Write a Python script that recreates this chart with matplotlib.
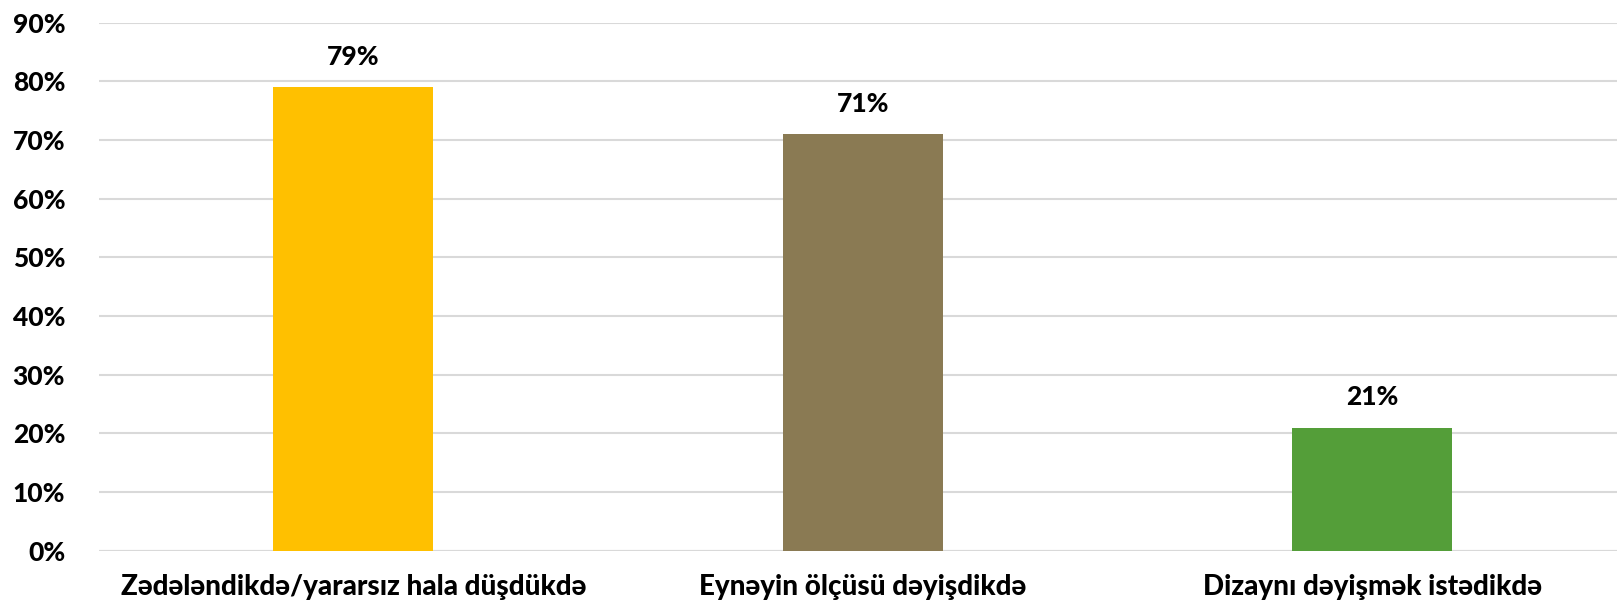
import matplotlib
matplotlib.use("Agg")
import matplotlib.pyplot as plt
from matplotlib.ticker import PercentFormatter

categories = ["Zədələndikdə/yararsız hala düşdükdə", "Eynəyin ölçüsü dəyişdikdə", "Dizaynı dəyişmək istədikdə"]
values = [0.79, 0.71, 0.21]
labels = ["79%", "71%", "21%"]
colors = ["#FFC000", "#8A7A53", "#549E39"]
yticks = [0, 0.1, 0.2, 0.3, 0.4, 0.5, 0.6, 0.7, 0.8, 0.9]

plt.rcParams['font.family'] = ['Lato', 'DejaVu Sans']
W = 900
fig = plt.figure(figsize=(16.17, 6.04), dpi=100)
ax = fig.add_axes([98.5/1617, 1-550.7/604, (1617-98.5)/1617, (550.7-22.7)/604])

x = list(range(len(categories)))
bars = ax.bar(x, values, width=0.314, color=colors, zorder=3)
for xi, v, lab in zip(x, values, labels):
    ax.annotate(lab, (xi, v), xytext=(0, 22), textcoords="offset points",
                ha="center", va="center", fontsize=19, fontweight=W)

ax.set_xlim(-0.5, 2.48)
ax.set_ylim(0, 0.9)
ax.set_yticks(yticks)
ax.yaxis.set_major_formatter(PercentFormatter(1.0, decimals=0))
ax.set_xticks(x)
ax.set_xticklabels(categories, fontsize=20, fontweight=W)
for t in ax.get_yticklabels():
    t.set_fontsize(19)
    t.set_fontweight(W)
ax.tick_params(axis="y", length=0, pad=24)
ax.tick_params(axis="x", length=0, pad=17)
ax.grid(axis="y", color="#D9D9D9", linewidth=1.5, zorder=0)
for s in ax.spines.values():
    s.set_visible(False)
ax.axhline(0, color="#D9D9D9", linewidth=1.5, zorder=1)

fig.savefig("out.png", dpi=100)
